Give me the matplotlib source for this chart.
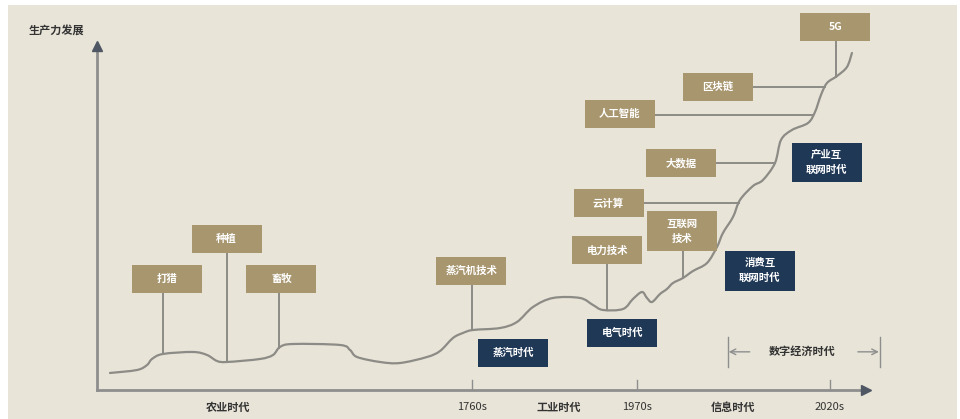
import matplotlib.pyplot as plt
import numpy as np
from matplotlib.patches import Rectangle, PathPatch
from matplotlib.path import Path

plt.rcParams['font.family'] = ['Noto Sans CJK SC', 'DejaVu Sans']

# 生产力曲线 (横轴: 时间 0-100, 纵轴: 生产力 0-100)
curve_x = [1.67, 5.14, 6.43, 7.07, 8.48, 12.34, 14.14, 15.42, 16.71, 20.95,
           22.62, 23.52, 25.19, 31.23, 32.52, 33.42, 36.38, 38.95, 42.42, 44.09,
           45.76, 47.04, 48.33, 51.80, 53.98, 56.04, 58.61, 62.08, 63.75, 65.04,
           67.61, 68.89, 70.05, 70.69, 71.34, 72.37, 73.26, 74.04, 75.32, 76.61,
           78.41, 79.69, 80.46, 81.75, 82.65, 84.32, 85.60, 87.15, 87.92, 89.33,
           91.39, 92.29, 93.06, 93.83, 95.12, 96.40, 97.04]
curve_y = [4.86, 5.71, 7.14, 8.86, 10.29, 10.86, 10.00, 8.29, 8.00, 8.86,
           10.00, 12.29, 13.14, 12.86, 11.43, 9.43, 8.00, 7.71, 9.43, 11.14,
           14.86, 16.29, 17.14, 17.71, 19.43, 23.71, 26.29, 26.29, 24.29, 22.86,
           23.14, 26.00, 28.00, 26.29, 25.14, 27.43, 28.86, 30.57, 32.00, 34.00,
           36.29, 40.86, 44.86, 49.43, 54.29, 58.29, 60.00, 64.86, 71.43, 74.29,
           76.29, 79.43, 84.29, 87.71, 89.71, 92.29, 96.29]

# 横轴刻度
tick_pos = [48.2, 69.4, 94.2]
tick_labels = ['1760s', '1970s', '2020s']

# 时代
era_pos = [16.8, 59.3, 81.7]
era_labels = ['农业时代', '工业时代', '信息时代']

# 技术 (竖直引线, 按横轴位置)
vtech_labels = ['打猎', '种植', '畜牧', '蒸汽机技术', '电力技术', '互联网\n技术', '5G']
vtech_x = [8.5, 16.7, 23.4, 48.2, 65.5, 75.3, 95.0]

# 技术 (水平引线, 按生产力水平)
htech_labels = ['云计算', '大数据', '人工智能', '区块链']
htech_y = [53.4, 64.9, 78.6, 86.6]

# 时代标签
age_labels = ['蒸汽时代', '电气时代', '消费互\n联网时代', '产业互\n联网时代']

# 颜色
bg = '#e8e4d8'
tan = '#a8966f'
navy = '#1f3856'
line_gray = '#8d8b86'
axis_gray = '#8e8e8e'
text_dark = '#333333'

# 方框位置 (中心)
vtech_box = [(9.0, 31.7), (16.65, 43.1), (23.7, 31.7), (48.1, 34.0),
             (65.6, 39.9), (75.2, 45.3), (94.9, 103.7)]
htech_box = [(65.75, 53.3), (75.1, 64.9), (67.2, 78.9), (79.8, 86.6)]
age_box = [(53.5, 10.7), (67.5, 16.4), (85.2, 34.1), (93.8, 65.0)]
box_w = 9.0
box_h = 8.0
box_h2 = 11.4

fig = plt.figure(figsize=(9.6, 4.19), dpi=100)
ax = fig.add_axes([0, 0, 1, 1])
ax.set_xlim(-12.47, 110.93)
ax.set_ylim(-8.29, 111.43)
ax.axis('off')
ax.add_patch(Rectangle((8 / 960, 0), 949 / 960, 414 / 419, transform=ax.transAxes,
                       facecolor=bg, edgecolor='none', zorder=0))


def draw_box(cx, cy, label, color):
    h = box_h2 if '\n' in label else box_h
    ax.add_patch(Rectangle((cx - box_w / 2, cy - h / 2), box_w, h,
                           facecolor=color, edgecolor='none', zorder=4))
    ax.text(cx, cy, label, color='white', fontsize=7.5, fontweight='bold',
            ha='center', va='center', linespacing=1.5, zorder=5)
    return h


# 坐标轴
ax.plot([0, 0], [0, 98], color=axis_gray, lw=2, zorder=2)
ax.plot([0, 98.5], [0, 0], color=axis_gray, lw=2, zorder=2)
ax.plot(0, 98.2, marker='^', color='#4f5765', markersize=7, zorder=3)
ax.plot(98.8, 0, marker='>', color='#4f5765', markersize=7, zorder=3)
ax.text(-5.2, 102.9, '生产力发展', fontsize=8, fontweight='bold', color=text_dark,
        ha='center', va='center')

for p, lab in zip(tick_pos, tick_labels):
    ax.plot([p, p], [0, 2.8], color=axis_gray, lw=1, zorder=2)
    ax.text(p, -4.9, lab, fontsize=8, color=text_dark, ha='center', va='center')
for p, lab in zip(era_pos, era_labels):
    ax.text(p, -4.9, lab, fontsize=8, fontweight='bold', color=text_dark,
            ha='center', va='center')

# 曲线 (平滑贝塞尔路径穿过读取点)
pts = np.column_stack([curve_x, curve_y])
verts = [pts[0]]
codes = [Path.MOVETO]
for i in range(len(pts) - 1):
    p0 = pts[max(i - 1, 0)]
    p1 = pts[i]
    p2 = pts[i + 1]
    p3 = pts[min(i + 2, len(pts) - 1)]
    verts += [p1 + (p2 - p0) / 6, p2 - (p3 - p1) / 6, p2]
    codes += [Path.CURVE4] * 3
ax.add_patch(PathPatch(Path(verts, codes), facecolor='none', edgecolor=line_gray,
                       lw=1.6, capstyle='round', joinstyle='round', zorder=3))

cx_arr = np.array(curve_x)
cy_arr = np.array(curve_y)

# 竖直引线
for x, lab, (bx, by) in zip(vtech_x, vtech_labels, vtech_box):
    h = draw_box(bx, by, lab, tan)
    yc = np.interp(x, cx_arr, cy_arr)
    ax.plot([x, x], [by - h / 2, yc], color=line_gray, lw=1.4, zorder=2)

# 水平引线 (曲线上升段)
rise = cx_arr >= 78
for y, lab, (bx, by) in zip(htech_y, htech_labels, htech_box):
    draw_box(bx, by, lab, tan)
    xc = np.interp(y, cy_arr[rise], cx_arr[rise])
    ax.plot([bx + box_w / 2, xc], [y, y], color=line_gray, lw=1.4, zorder=2)

for lab, (bx, by) in zip(age_labels, age_box):
    draw_box(bx, by, lab, navy)

# 数字经济时代
for bx in [81.1, 100.6]:
    ax.plot([bx, bx], [6.6, 15.1], color=axis_gray, lw=1, zorder=2)
ax.annotate('', xy=(81.2, 10.9), xytext=(83.9, 10.9),
            arrowprops=dict(arrowstyle='->', color=axis_gray, lw=1, shrinkA=0, shrinkB=0))
ax.annotate('', xy=(100.5, 10.9), xytext=(97.8, 10.9),
            arrowprops=dict(arrowstyle='->', color=axis_gray, lw=1, shrinkA=0, shrinkB=0))
ax.text(90.6, 10.9, '数字经济时代', fontsize=8, fontweight='bold', color=text_dark,
        ha='center', va='center')

fig.savefig('out.png', dpi=100, facecolor='white')
